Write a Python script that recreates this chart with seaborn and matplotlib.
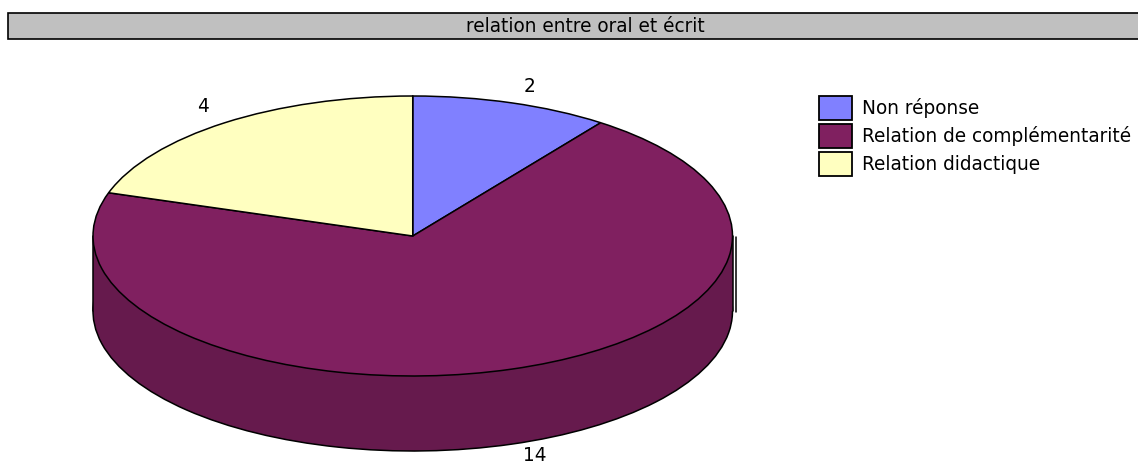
import matplotlib
matplotlib.use("Agg")
import matplotlib.pyplot as plt
from matplotlib.patches import Rectangle
from matplotlib.lines import Line2D
import seaborn as sns

categories = ["Non réponse", "Relation de complémentarité", "Relation didactique"]
values = [2, 14, 4]
top_colors = ["#8080FF", "#802060", "#FFFFC0"]
side_colors = ["#66669C", "#661A4D", "#CCCC9A"]
title = "relation entre oral et écrit"

W, H = 1138, 465
sns.set_theme(style="white")
plt.rcParams["font.family"] = ["DejaVu Sans"]

fig = plt.figure(figsize=(W / 100, H / 100), dpi=100, facecolor="white")

def fx(x):
    return x / W

def fy(y):
    return 1 - y / H

# title band
fig.add_artist(Rectangle((fx(8), fy(39)), fx(1200 - 8), (39 - 13) / H,
                         transform=fig.transFigure, facecolor="#C0C0C0",
                         edgecolor="black", linewidth=1.2))
fs = 13.35
fig.text(fx(585.5), fy(27), title, ha="center", va="center", fontsize=fs, color="black")

# pie: ellipse top 96, bottom 376
ax = fig.add_axes([fx(93), fy(376), 639.5 / W, 280 / H])
depth = 75 / 140
edge = dict(edgecolor="black", linewidth=1.1, clip_on=False)

ax.pie(values, colors=side_colors, startangle=90, counterclock=False,
       center=(0, -depth), radius=1, wedgeprops=edge)
ax.add_patch(Rectangle((-1, -depth), 2, depth, facecolor=side_colors[1], edgecolor="none",
                       clip_on=False, zorder=1.5))
for sx in (-1, 1):
    ax.add_line(Line2D([sx, sx], [-depth, 0], color="black", lw=1.1, clip_on=False, zorder=1.6))
wedges, _ = ax.pie(values, colors=top_colors, startangle=90, counterclock=False,
                   radius=1, wedgeprops=dict(zorder=2, **edge))
ax.set_aspect("auto")
ax.set_xlim(-1, 1)
ax.set_ylim(-1, 1)
ax.axis("off")

# stray vertical line at right of the drum
fig.add_artist(Line2D([fx(735.5), fx(735.5)], [fy(237), fy(312)], color="black", lw=1.1,
                      transform=fig.transFigure))

# value labels
label_px = [(530, 87), (535, 455), (203, 106)]
for v, (x, y) in zip(values, label_px):
    fig.text(fx(x), fy(y), str(v), ha="center", va="center", fontsize=fs, color="black")

# legend
em = fs * 100 / 72
hh = (24 / em - 0.245) / 0.65
leg = fig.legend(wedges, categories, loc="upper left", bbox_to_anchor=(fx(819), fy(96)),
                 bbox_transform=fig.transFigure, frameon=False, fontsize=fs,
                 borderpad=0, borderaxespad=0, handlelength=33 / em, handleheight=hh,
                 labelspacing=4 / em, handletextpad=10 / em, labelcolor="black")
for h in leg.legend_handles:
    h.set_edgecolor("black")
    h.set_linewidth(1.3)

fig.savefig("out.png", dpi=100, facecolor="white")
